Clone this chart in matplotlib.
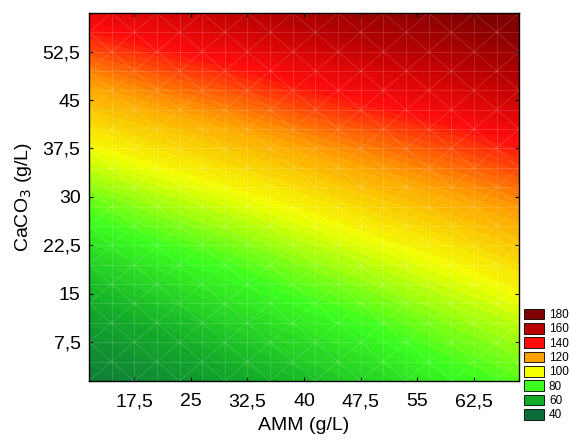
import numpy as np
import matplotlib
matplotlib.use("Agg")
import matplotlib.pyplot as plt
from matplotlib.colors import LinearSegmentedColormap, Normalize
from matplotlib.patches import Patch
from matplotlib.collections import LineCollection

plt.rcParams['font.family'] = ['Liberation Sans', 'DejaVu Sans']

# grid
amm = [11.5, 21, 30.5, 40, 49.5, 59, 68.5]
caco3 = [1.5, 11, 20.5, 30, 39.5, 49, 58.5]
resp = [
    [45, 51, 58, 64, 70, 77, 83],
    [57, 63, 70, 76, 82, 89, 95],
    [70, 77, 83, 90, 96, 102, 109],
    [86, 93, 99, 105, 112, 118, 124],
    [104, 110, 116, 123, 129, 135, 142],
    [123, 130, 136, 143, 149, 155, 163],
    [145, 151, 158, 165, 172, 178, 185],
]

legend_vals = [180, 160, 140, 120, 100, 80, 60, 40]
legend_cols = ['#800000', '#b80000', '#ff0c0c', '#ffa200', '#f4ff00', '#3cff1e', '#12aa2a', '#0d6b3a']

xticks = [17.5, 25, 32.5, 40, 47.5, 55, 62.5]
xlabels = ['17,5', '25', '32,5', '40', '47,5', '55', '62,5']
yticks = [7.5, 15, 22.5, 30, 37.5, 45, 52.5]
ylabels = ['7,5', '15', '22,5', '30', '37,5', '45', '52,5']

# colormap from legend colours
nodes = [(v - 40) / 140 for v in legend_vals[::-1]]
cmap = LinearSegmentedColormap.from_list('stat', list(zip(nodes, legend_cols[::-1])))
norm = Normalize(40, 180)

fig = plt.figure(figsize=(5.7, 4.43), dpi=100)
ax = fig.add_axes([0.156, 0.14, 0.755, 0.831])

X, Y = np.meshgrid(amm, caco3)
Z = np.array(resp, dtype=float)
ax.contourf(X, Y, Z, levels=np.arange(30, 192, 2), cmap=cmap, norm=norm, extend='both')

# faint mesh texture
step = 3
gx = np.arange(amm[0], amm[-1] + 0.1, step)
gy = np.arange(caco3[0], caco3[-1] + 0.1, step)
segs = [[(x, gy[0]), (x, gy[-1])] for x in gx] + [[(gx[0], y), (gx[-1], y)] for y in gy]
for i in range(len(gx) - 1):
    for j in range(len(gy) - 1):
        if (i + j) % 2 == 0:
            segs.append([(gx[i], gy[j]), (gx[i + 1], gy[j + 1])])
        else:
            segs.append([(gx[i], gy[j + 1]), (gx[i + 1], gy[j])])
ax.add_collection(LineCollection(segs, colors='white', linewidths=0.5, alpha=0.2))

ax.set_xlim(amm[0], amm[-1])
ax.set_ylim(caco3[0], caco3[-1])
ax.set_xticks(xticks)
ax.set_xticklabels(xlabels)
ax.set_yticks(yticks)
ax.set_yticklabels(ylabels)
ax.tick_params(direction='in', length=3, labelsize=14, top=True, right=True, pad=6)
ax.tick_params(axis='x', pad=9)
for s in ax.spines.values():
    s.set_linewidth(1)
ax.set_xlabel('AMM (g/L)', fontsize=14, labelpad=5)
ax.set_ylabel('CaCO$_3$ (g/L)', fontsize=14, labelpad=6)

handles = [Patch(facecolor=c, edgecolor='black', linewidth=0.6) for c in legend_cols]
fig.legend(handles, [str(v) for v in legend_vals], loc='lower left',
           bbox_to_anchor=(0.905, 0.03), frameon=False, fontsize=8.5,
           handlelength=1.7, handleheight=1.0, handletextpad=0.4, labelspacing=0.17,
           borderpad=0.2)

fig.savefig('out.png', dpi=100)
